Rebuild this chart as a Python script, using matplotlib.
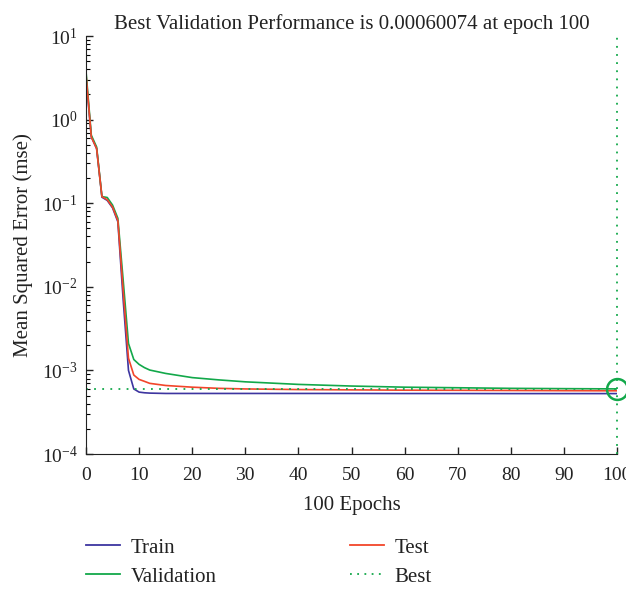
import numpy as np
import matplotlib
matplotlib.use("Agg")
import matplotlib.pyplot as plt
from matplotlib.lines import Line2D
from matplotlib.ticker import LogLocator, NullFormatter

plt.rcParams['font.family'] = ['Liberation Serif', 'DejaVu Serif']
plt.rcParams['mathtext.fontset'] = 'custom'
plt.rcParams['mathtext.rm'] = 'Liberation Serif'
plt.rcParams['mathtext.it'] = 'Liberation Serif:italic'
plt.rcParams['axes.unicode_minus'] = False

# training record (mse per epoch)
epochs = [0, 1, 2, 3, 4, 5, 6, 7, 8, 9, 10, 11, 12, 15, 20, 25, 30, 40, 50, 60, 70, 80, 90, 100]
train_mse = [3.2, 0.62, 0.45, 0.118, 0.108, 0.088, 0.060, 0.0070, 0.00100, 0.00060, 0.00055,
             0.00054, 0.000535, 0.00053, 0.00053, 0.00053, 0.00053, 0.00053, 0.00053,
             0.000529, 0.000529, 0.000528, 0.000528, 0.000528]
val_mse = [3.8, 0.65, 0.47, 0.120, 0.117, 0.095, 0.066, 0.0120, 0.00210, 0.00135, 0.00118,
           0.00108, 0.00101, 0.00092, 0.00082, 0.00077, 0.00073, 0.00068, 0.00065,
           0.00063, 0.00062, 0.00061, 0.000605, 0.00060074]
test_mse = [3.5, 0.62, 0.45, 0.120, 0.110, 0.090, 0.062, 0.0090, 0.00140, 0.00088, 0.00078,
            0.00074, 0.00070, 0.00066, 0.00063, 0.00061, 0.00060, 0.00059, 0.000585,
            0.00058, 0.000578, 0.000575, 0.000572, 0.00057]
best_epoch = 100
best_perf = 0.00060074

c_train = '#3d35a0'
c_val = '#12a84a'
c_test = '#f2452a'
ink = '#222222'
fs = 15

fig = plt.figure(figsize=(6.26, 5.90), dpi=100)
ax = fig.add_axes([86 / 626, 136 / 590, 531 / 626, 418 / 590])

ax.semilogy(epochs, train_mse, color=c_train, lw=1.2)
ax.semilogy(epochs, val_mse, color=c_val, lw=1.2)
ax.semilogy(epochs, test_mse, color=c_test, lw=1.2)
ax.axhline(best_perf, color=c_val, lw=1.3, ls=(0, (1, 3.5)))
ax.axvline(best_epoch, color=c_val, lw=1.3, ls=(0, (1, 3.5)), clip_on=False)
ax.plot([best_epoch], [best_perf], 'o', mfc='none', mec=c_val, ms=15, mew=1.8,
        clip_on=False, zorder=5)

ax.set_xlim(0, 100)
ax.set_ylim(1e-4, 1e1)
ax.set_xticks(np.arange(0, 101, 10))
ax.yaxis.set_major_locator(LogLocator(base=10, numticks=10))
ax.yaxis.set_minor_locator(LogLocator(base=10, subs=np.arange(2, 10), numticks=10))
ax.yaxis.set_minor_formatter(NullFormatter())
ax.tick_params(direction='in', labelsize=14, length=5, width=1, colors=ink)
ax.tick_params(which='minor', direction='in', length=3, width=0.8)
ax.tick_params(axis='x', pad=9)
ax.tick_params(axis='y', pad=6)
for s in ['top', 'right']:
    ax.spines[s].set_visible(False)
for s in ['left', 'bottom']:
    ax.spines[s].set_color(ink)

ax.set_title('Best Validation Performance is 0.00060074 at epoch 100', fontsize=fs,
             color=ink, pad=5)
ax.set_xlabel('100 Epochs', fontsize=fs, color=ink, labelpad=9)
ax.set_ylabel('Mean Squared Error (mse)', fontsize=fs, color=ink, labelpad=6)

h_train = Line2D([], [], color=c_train, lw=1.3)
h_val = Line2D([], [], color=c_val, lw=1.3)
h_test = Line2D([], [], color=c_test, lw=1.3)
h_best = Line2D([], [], color=c_val, lw=1.3, ls=(0, (1, 3)))
leg_kw = dict(frameon=False, fontsize=fs, handlelength=1.65, handletextpad=0.5,
              labelspacing=0.45, borderpad=0, borderaxespad=0, labelcolor=ink)
fig.legend([h_train, h_val], ['Train', 'Validation'], loc='upper left',
           bbox_to_anchor=(86 / 626, 1 - 538 / 590), **leg_kw)
fig.legend([h_test, h_best], ['Test', 'Best'], loc='upper left',
           bbox_to_anchor=(350 / 626, 1 - 538 / 590), **leg_kw)

fig.savefig('out.png', dpi=100)
